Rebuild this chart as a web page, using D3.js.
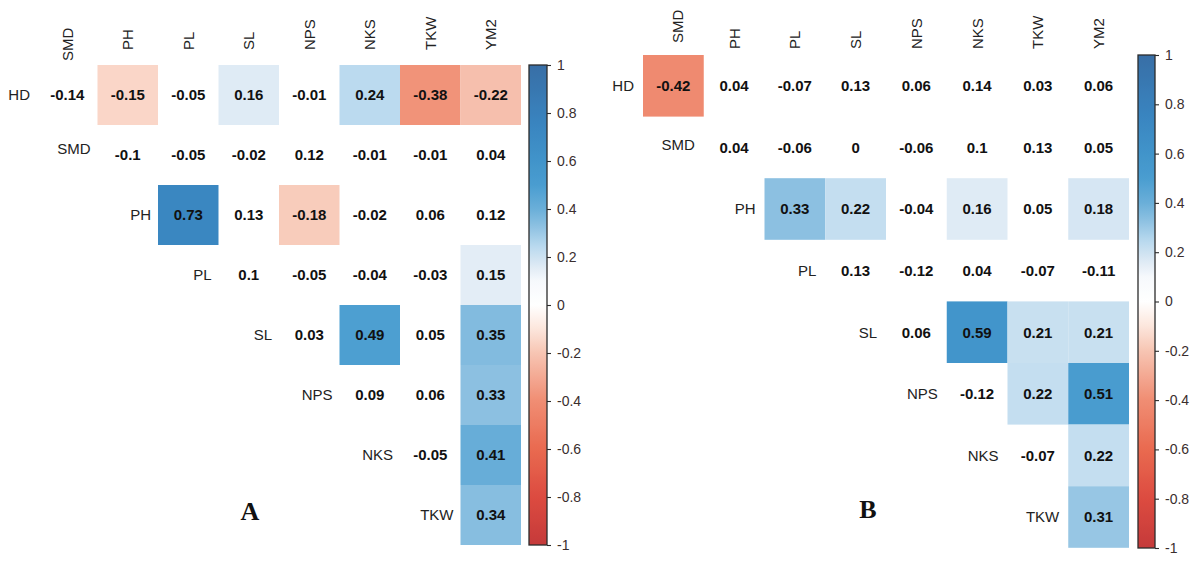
<!DOCTYPE html>
<html><head><meta charset="utf-8">
<script src="https://cdn.jsdelivr.net/npm/d3@7"></script>
<style>html,body{margin:0;padding:0;background:#fff;}svg{display:block;}</style>
</head><body>
<svg id="chart" width="1200" height="568"></svg>
<script>
// ---- data ----
const rowVars = ["HD","SMD","PH","PL","SL","NPS","NKS","TKW"];
const colVars = ["SMD","PH","PL","SL","NPS","NKS","TKW","YM2"];
const tickValues = [1,0.8,0.6,0.4,0.2,0,-0.2,-0.4,-0.6,-0.8,-1];

// Panel A: upper-triangle correlations, row by row
const valuesA = [
  [-0.14,-0.15,-0.05,0.16,-0.01,0.24,-0.38,-0.22],
  [-0.1,-0.05,-0.02,0.12,-0.01,-0.01,0.04],
  [0.73,0.13,-0.18,-0.02,0.06,0.12],
  [0.1,-0.05,-0.04,-0.03,0.15],
  [0.03,0.49,0.05,0.35],
  [0.09,0.06,0.33],
  [-0.05,0.41],
  [0.34]
];
// 1 = significant (coloured tile)
const signifA = [
  [0,1,0,1,0,1,1,1],
  [0,0,0,0,0,0,0],
  [1,0,1,0,0,0],
  [0,0,0,0,1],
  [0,1,0,1],
  [0,0,1],
  [0,1],
  [1]
];
// Panel B
const valuesB = [
  [-0.42,0.04,-0.07,0.13,0.06,0.14,0.03,0.06],
  [0.04,-0.06,0,-0.06,0.1,0.13,0.05],
  [0.33,0.22,-0.04,0.16,0.05,0.18],
  [0.13,-0.12,0.04,-0.07,-0.11],
  [0.06,0.59,0.21,0.21],
  [-0.12,0.22,0.51],
  [-0.07,0.22],
  [0.31]
];
const signifB = [
  [1,0,0,0,0,0,0,0],
  [0,0,0,0,0,0,0],
  [1,1,0,1,0,1],
  [0,0,0,0,0],
  [0,1,1,1],
  [0,1,1],
  [0,1],
  [1]
];
const panelLetters = ["A","B"];

// ---- colour scale ----
const colorStops = [-1,-0.8,-0.6,-0.4,-0.2,-0.1,0,0.1,0.15,0.2,0.25,0.33,0.4,0.5,0.6,0.75,1];
const colorRange = ["#c53a3a","#dc4b40","#e96a50","#f08d73","#f7c5b3","#fce6dc","#ffffff","#f6f9fc","#e3edf6","#cde2f1","#b6d8ee","#8cc0e1","#6aafd9","#4a9dd0","#4194ca","#3985c0","#386ea6"];
const color = d3.scaleLinear().domain(colorStops).range(colorRange).interpolate(d3.interpolateRgb);

const svg = d3.select("#chart");
const defs = svg.append("defs");
const grad = defs.append("linearGradient").attr("id","cbar").attr("x1",0).attr("y1",1).attr("x2",0).attr("y2",0);
d3.range(0,101).forEach(i=>{
  const v = -1 + i*0.02;
  grad.append("stop").attr("offset",(i)+"%").attr("stop-color",color(v));
});

const FONT = "'Liberation Sans', Arial, sans-serif";

function drawPanel(cfg, values, signif, letter){
  const g = svg.append("g");
  const x = d3.scaleBand().domain(colVars).range([cfg.x0, cfg.x0 + cfg.cw*colVars.length]).padding(0);
  const y = d3.scaleBand().domain(rowVars).range([cfg.y0, cfg.y0 + cfg.rh*rowVars.length]).padding(0);

  const cells = [];
  values.forEach((row,i)=>{
    row.forEach((v,k)=>{
      const j = i + k;
      cells.push({r: rowVars[i], c: colVars[j], v, sig: signif[i][k]});
    });
  });

  g.selectAll("rect.cell").data(cells.filter(d=>d.sig)).join("rect")
    .attr("class","cell")
    .attr("x",d=>x(d.c)).attr("y",d=>y(d.r))
    .attr("width",x.bandwidth()).attr("height",y.bandwidth())
    .attr("fill",d=>color(d.v));

  g.selectAll("text.val").data(cells).join("text")
    .attr("class","val")
    .attr("x",d=>x(d.c)+x.bandwidth()/2)
    .attr("y",d=>y(d.r)+y.bandwidth()/2)
    .attr("dy","0.36em")
    .attr("text-anchor","middle")
    .style("font-family",FONT).style("font-weight","bold").style("font-size","15px")
    .attr("fill","#111")
    .text(d=>String(d.v));

  // row labels
  g.selectAll("text.rl").data(rowVars).join("text")
    .attr("class","rl")
    .attr("x",(d,i)=> cfg.x0 + i*cfg.cw - cfg.rowLabelGap)
    .attr("y",(d,i)=> y(d)+y.bandwidth()/2 + (i===1?cfg.smdRowShift:0))
    .attr("dy","0.36em")
    .attr("text-anchor","end")
    .style("font-family",FONT).style("font-size","15px")
    .attr("fill","#222")
    .text(d=>d);

  // column labels
  g.selectAll("text.cl").data(colVars).join("text")
    .attr("class","cl")
    .attr("transform",(d,i)=>`translate(${x(d)+x.bandwidth()/2 + (i===0?cfg.firstColDx:0)},${i===0?cfg.firstColBottom:cfg.colBottom}) rotate(-90)`)
    .attr("dy","0.36em")
    .attr("text-anchor","start")
    .style("font-family",FONT).style("font-size","15px")
    .attr("fill","#222")
    .text(d=>d);

  // colour bar
  const cb = d3.scaleLinear().domain([-1,1]).range([cfg.barY1, cfg.barY0]);
  g.append("rect")
    .attr("x",cfg.barX).attr("y",cfg.barY0)
    .attr("width",cfg.barW).attr("height",cfg.barY1-cfg.barY0)
    .attr("fill","url(#cbar)")
    .attr("stroke","#2b2b2b").attr("stroke-width",1.3);
  const axis = d3.axisRight(cb).tickValues(tickValues).tickSize(4).tickPadding(6)
    .tickFormat(d=>String(+d.toFixed(1)));
  const ag = g.append("g").attr("transform",`translate(${cfg.barX+cfg.barW},0)`).call(axis);
  ag.select(".domain").remove();
  ag.selectAll(".tick line").attr("stroke","#2b2b2b").attr("stroke-width",1.1);
  ag.selectAll(".tick text").style("font-family",FONT).style("font-size","14px").attr("fill","#3a2e2e");

  g.append("text")
    .attr("x",cfg.letterX).attr("y",cfg.letterY)
    .attr("text-anchor","middle")
    .style("font-family","'Liberation Serif','Times New Roman',serif")
    .style("font-weight","bold").style("font-size","26px")
    .attr("fill","#111")
    .text(letter);
}

drawPanel({x0:37, y0:65, cw:60.5, rh:60, rowLabelGap:7, smdRowShift:-6,
           colBottom:50, firstColBottom:61, firstColDx:0,
           barX:529, barW:18, barY0:65, barY1:545, letterX:250, letterY:520},
          valuesA, signifA, panelLetters[0]);
drawPanel({x0:643, y0:55, cw:60.75, rh:61.6, rowLabelGap:9, smdRowShift:-3,
           colBottom:49, firstColBottom:43, firstColDx:4,
           barX:1138, barW:17, barY0:55, barY1:548, letterX:868, letterY:518},
          valuesB, signifB, panelLetters[1]);
</script>
</body></html>
